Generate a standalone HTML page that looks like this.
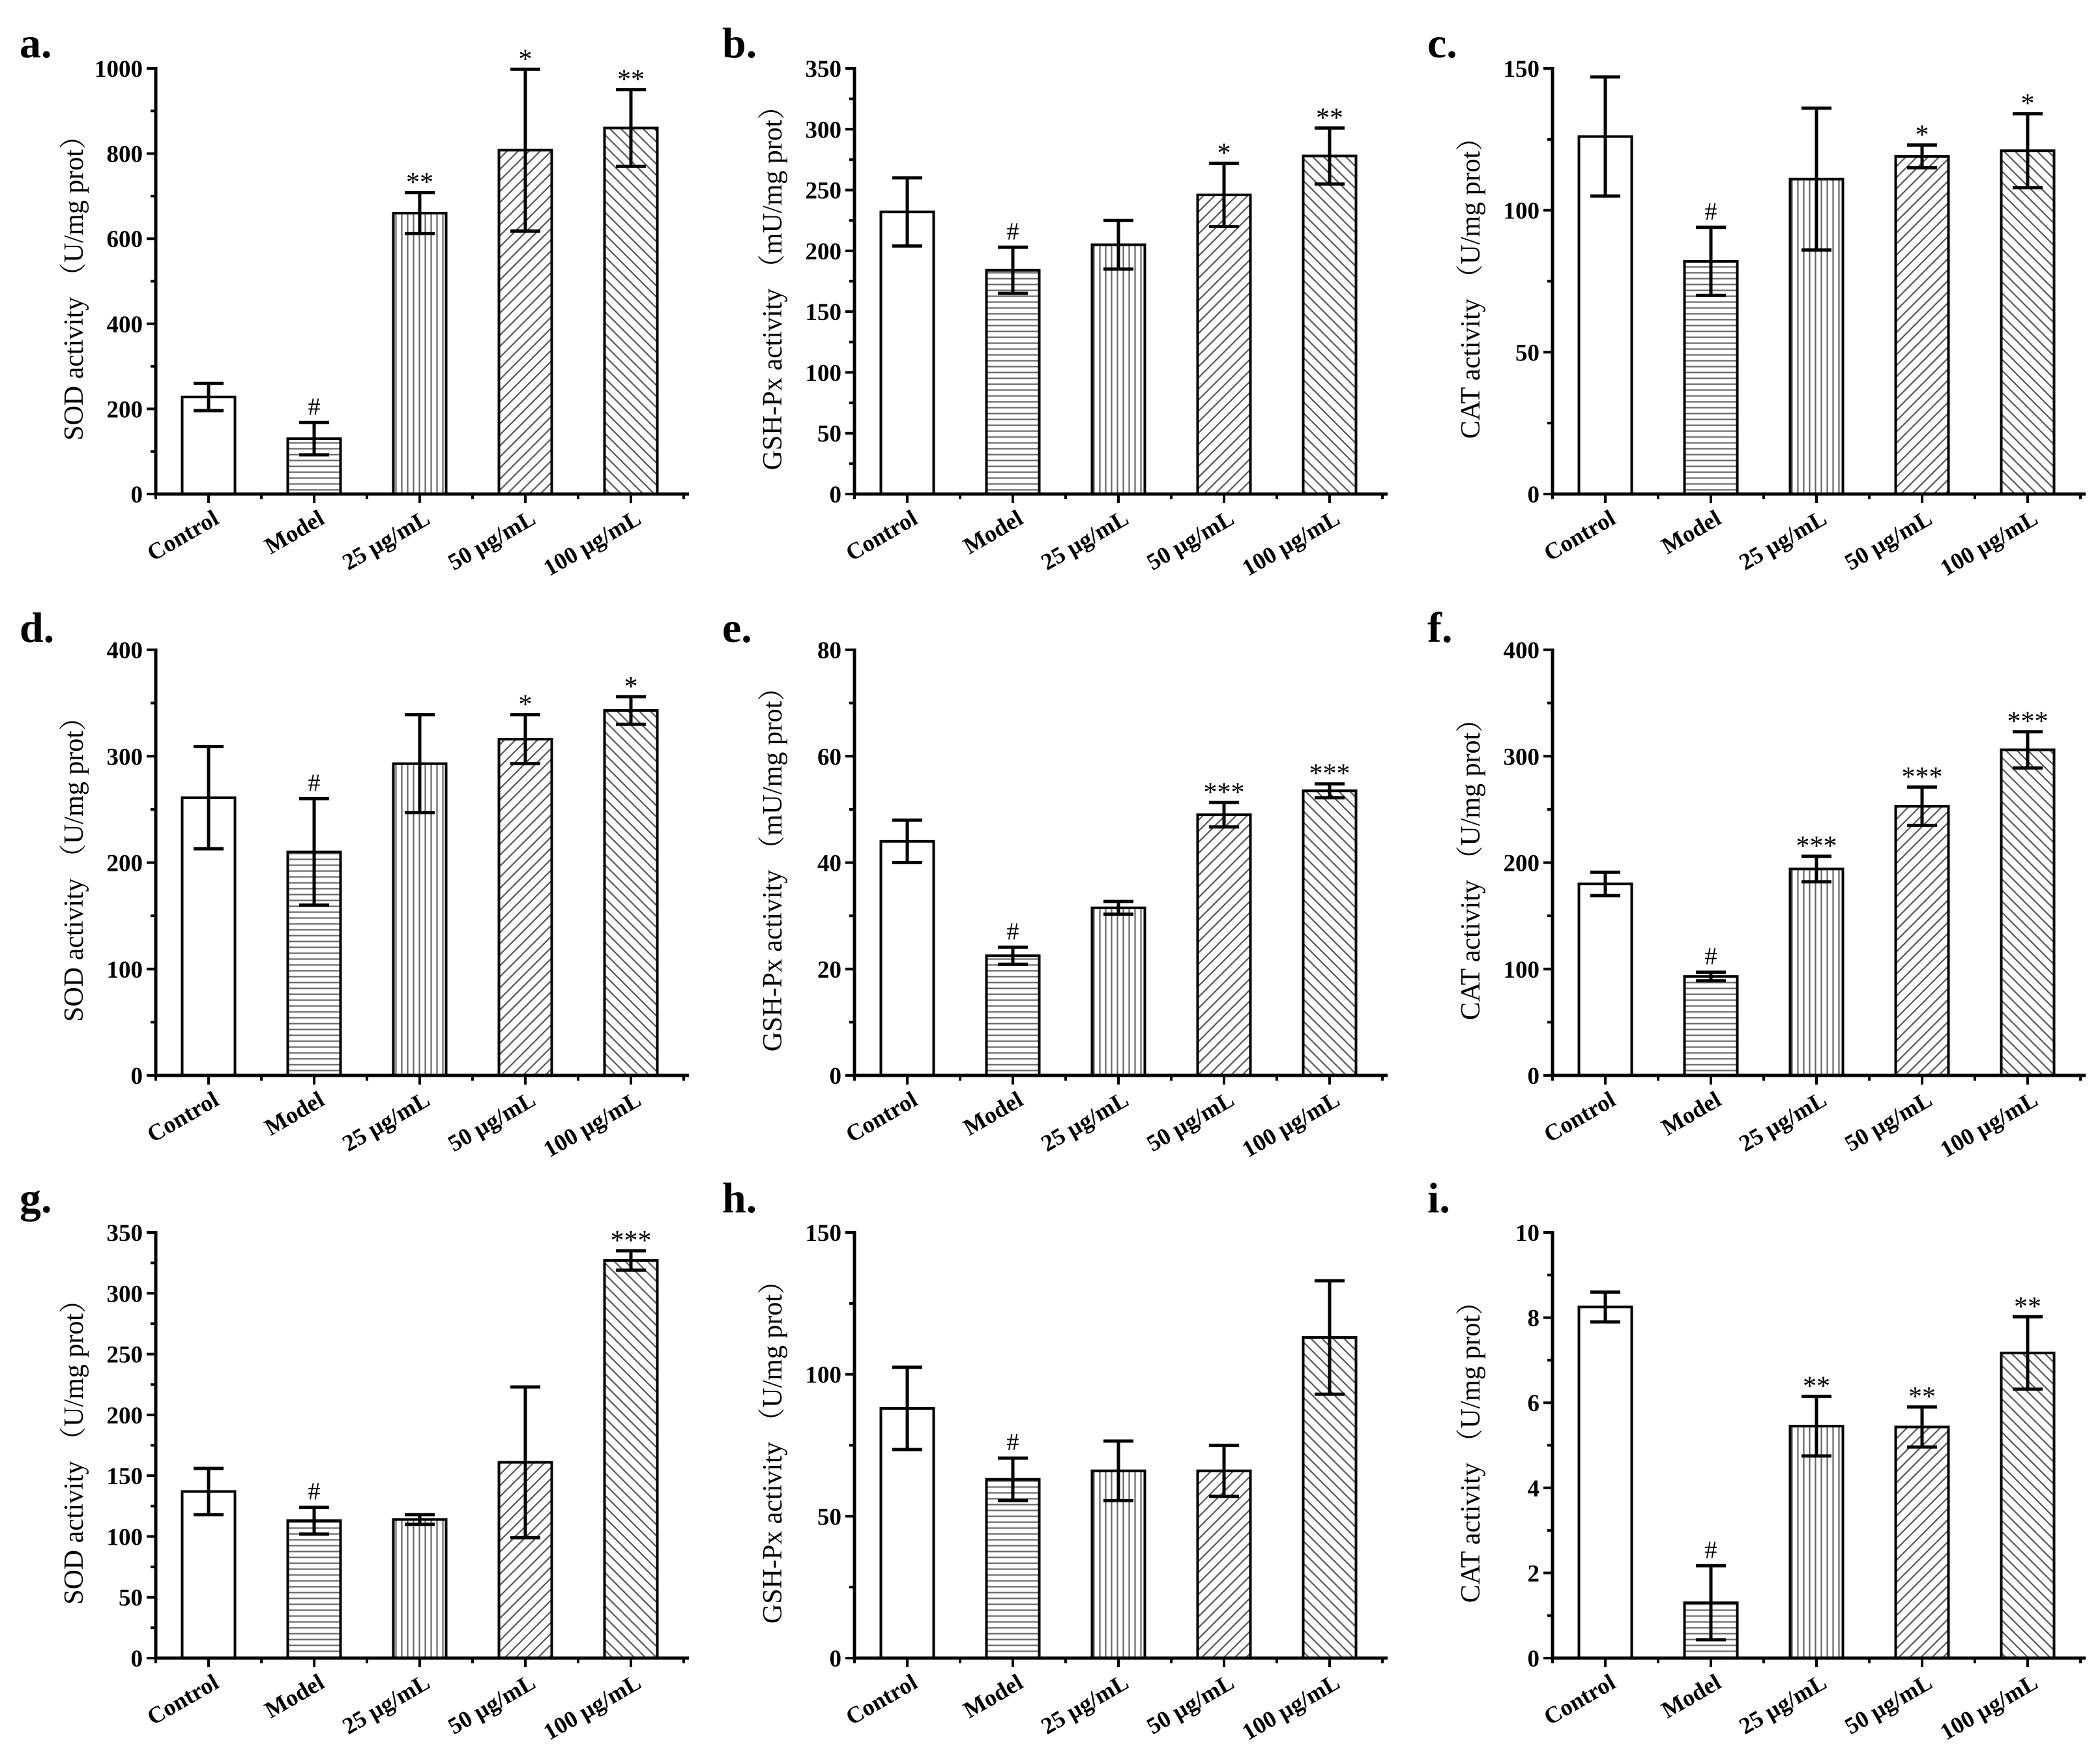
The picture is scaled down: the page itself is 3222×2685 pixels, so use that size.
<!DOCTYPE html>
<html><head><meta charset="utf-8">
<style>
html,body{margin:0;padding:0;background:#fff;}
svg{display:block;}
text{font-family:"Liberation Serif","Noto Serif CJK SC",serif;}
</style></head>
<body>
<svg id="fig" width="3222" height="2685" viewBox="0 0 3222 2685" xmlns="http://www.w3.org/2000/svg">
<defs>
<pattern id="pH" patternUnits="userSpaceOnUse" width="10" height="9"><rect width="10" height="9" fill="#fff"/><line x1="0" y1="4.5" x2="10" y2="4.5" stroke="#666" stroke-width="2.2"/></pattern>
<pattern id="pV" patternUnits="userSpaceOnUse" width="9" height="10"><rect width="9" height="10" fill="#fff"/><line x1="4.5" y1="0" x2="4.5" y2="10" stroke="#666" stroke-width="2.2"/></pattern>
<pattern id="pF" patternUnits="userSpaceOnUse" width="12" height="12" patternTransform="rotate(45)"><rect width="12" height="12" fill="#fff"/><line x1="6" y1="0" x2="6" y2="12" stroke="#555" stroke-width="2.2"/></pattern>
<pattern id="pB" patternUnits="userSpaceOnUse" width="12" height="12" patternTransform="rotate(-45)"><rect width="12" height="12" fill="#fff"/><line x1="6" y1="0" x2="6" y2="12" stroke="#555" stroke-width="2.2"/></pattern>
</defs>
</svg>
<script>
const categories = ["Control","Model","25 μg/mL","50 μg/mL","100 μg/mL"];
const valuesA = [228,130,660,808,860];
const errA = [32,38,48,190,90];
const sigA = ["","#","**","*","**"];
const valuesB = [232,184,205,246,278];
const errB = [28,19,20,26,23];
const sigB = ["","#","","*","**"];
const valuesC = [126,82,111,119,121];
const errC = [21,12,25,4,13];
const sigC = ["","#","","*","*"];
const valuesD = [261,210,293,316,343];
const errD = [48,50,46,23,13];
const sigD = ["","#","","*","*"];
const valuesE = [44,22.5,31.5,49,53.5];
const errE = [4,1.6,1.2,2.3,1.3];
const sigE = ["","#","","***","***"];
const valuesF = [180,93,194,253,306];
const errF = [11,4,12,18,17];
const sigF = ["","#","***","***","***"];
const valuesG = [137,113,114,161,327];
const errG = [19,11,4,62,8];
const sigG = ["","#","","","***"];
const valuesH = [88,63,66,66,113];
const errH = [14.5,7.5,10.5,9,20];
const sigH = ["","#","","",""];
const valuesI = [8.25,1.3,5.45,5.43,7.17];
const errI = [0.35,0.87,0.7,0.47,0.85];
const sigI = ["","#","**","**","**"];
const ticksA=[0,200,400,600,800,1000], ticksB=[0,50,100,150,200,250,300,350], ticksC=[0,50,100,150];
const ticksD=[0,100,200,300,400], ticksE=[0,20,40,60,80], ticksF=[0,100,200,300,400];
const ticksG=[0,50,100,150,200,250,300,350], ticksH=[0,50,100,150], ticksI=[0,2,4,6,8,10];

const NS="http://www.w3.org/2000/svg";
const svg=document.getElementById('fig');
function mk(tag,attrs,parent){const e=document.createElementNS(NS,tag);for(const k in attrs)e.setAttribute(k,attrs[k]);(parent||svg).appendChild(e);return e;}
const fills=["#fff","url(#pH)","url(#pV)","url(#pF)","url(#pB)"];
const colX=[239,1311,2382], rowZero=[758,1650,2544], span=653, band=162;

const panels=[
 {id:"a",vals:valuesA,err:errA,sig:sigA,ticks:ticksA,label:"SOD activity （U/mg prot）",lx:30,ly:88},
 {id:"b",vals:valuesB,err:errB,sig:sigB,ticks:ticksB,label:"GSH-Px activity （mU/mg prot）",lx:1108,ly:88},
 {id:"c",vals:valuesC,err:errC,sig:sigC,ticks:ticksC,label:"CAT activity （U/mg prot）",lx:2190,ly:88},
 {id:"d",vals:valuesD,err:errD,sig:sigD,ticks:ticksD,label:"SOD activity （U/mg prot）",lx:30,ly:985},
 {id:"e",vals:valuesE,err:errE,sig:sigE,ticks:ticksE,label:"GSH-Px activity （mU/mg prot）",lx:1108,ly:985},
 {id:"f",vals:valuesF,err:errF,sig:sigF,ticks:ticksF,label:"CAT activity （U/mg prot）",lx:2190,ly:985},
 {id:"g",vals:valuesG,err:errG,sig:sigG,ticks:ticksG,label:"SOD activity （U/mg prot）",lx:30,ly:1860},
 {id:"h",vals:valuesH,err:errH,sig:sigH,ticks:ticksH,label:"GSH-Px activity （U/mg prot）",lx:1108,ly:1860},
 {id:"i",vals:valuesI,err:errI,sig:sigI,ticks:ticksI,label:"CAT activity （U/mg prot）",lx:2190,ly:1860}
];

panels.forEach((p,idx)=>{
  const ax=colX[idx%3], y0=rowZero[Math.floor(idx/3)];
  const tmax=p.ticks[p.ticks.length-1];
  const yS=v=>y0-v/tmax*span;
  const xS=i=>ax+(i+0.5)*band;
  const g=mk('g',{});
  
  
  const lt=mk('text',{x:p.lx,y:p.ly,'font-size':66,'font-weight':'bold'},g);
  lt.textContent=p.id+'.';
  
  
  p.vals.forEach((v,i)=>{
    const cx=xS(i), w=81;
    const r=mk('rect',{x:cx-w/2,y:yS(v),width:w,height:y0-yS(v),fill:fills[i],stroke:'#000','stroke-width':4},g);
    
    
    const hi=yS(v+p.err[i]), lo=yS(v-p.err[i]);
    const eb=mk('path',{d:`M${cx},${hi}V${lo}M${cx-23},${hi}H${cx+23}M${cx-23},${lo}H${cx+23}`,stroke:'#000','stroke-width':5,fill:'none'},g);
    
    
    if(p.sig[i]){
      const st=mk('text',{x:cx,y:hi-(p.sig[i]==='#'?12:2),'font-size':p.sig[i]==='#'?38:42,'text-anchor':'middle'},g);
      st.textContent=p.sig[i];
      
      
    }
    const xl=mk('text',{x:0,y:0,'font-size':36,'font-weight':'bold','text-anchor':'end',transform:`translate(${cx+18},${y0+44}) rotate(-30)`},g);
    xl.textContent=categories[i];
    
    
  });
  const axes=mk('path',{d:`M${ax},${y0-span-2}V${y0}H${ax+band*5+8}`,stroke:'#000','stroke-width':5,fill:'none'},g);
  
  
  let tk='';
  for(let i=0;i<5;i++){tk+=`M${xS(i)},${y0}v14`;}
  for(let i=0;i<=5;i++){tk+=`M${ax+i*band},${y0}v8`;}
  p.ticks.forEach((t,j)=>{
    tk+=`M${ax},${yS(t)}h-14`;
    if(j<p.ticks.length-1){tk+=`M${ax},${yS((t+p.ticks[j+1])/2)}h-8`;}
    const tl=mk('text',{x:ax-20,y:yS(t)+13,'font-size':37,'font-weight':'bold','text-anchor':'end'},g);
    tl.textContent=t;
    
    
  });
  const tp=mk('path',{d:tk,stroke:'#000','stroke-width':4,fill:'none'},g);
  
  
  const yl=mk('text',{x:0,y:0,'font-size':42,'text-anchor':'middle',transform:`translate(${ax-112},${y0-span/2}) rotate(-90)`},g);
  yl.textContent=p.label;
  
  
});
</script>
</body></html>
